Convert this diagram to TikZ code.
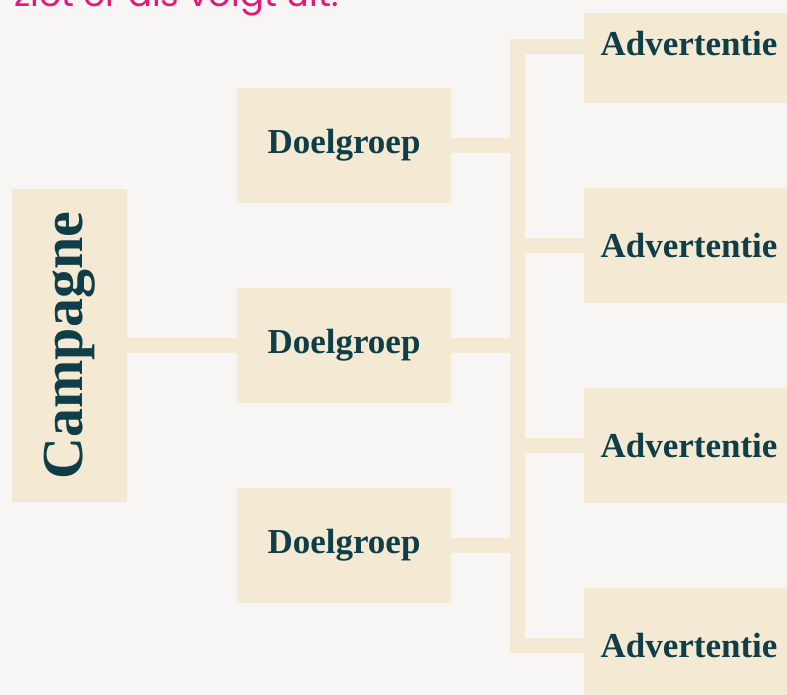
\documentclass[tikz,border=0pt]{standalone}
\usepackage{fontspec}
\setmainfont{Liberation Serif}
\newfontfamily\introfont{Poppins}

\definecolor{paper}{HTML}{F7F6F4}
\definecolor{cream}{HTML}{F4EAD4}
\definecolor{ink}{HTML}{0F3E48}
\definecolor{roze}{HTML}{E6177B}

\begin{document}
\begin{tikzpicture}[x=1pt, y=-1pt,
	vak/.style={fill=cream, text=ink, inner sep=0pt, font=\bfseries\fontsize{35}{40}\selectfont},
	doel/.style={vak, minimum width=214, minimum height=115},
	advert/.style={vak, minimum width=210, minimum height=115},
	lijn/.style={draw=cream, line width=15, line join=miter}]

	\fill[paper] (0,0) rectangle (787,695);
	\clip (0,0) rectangle (787,695);

	\node[anchor=base west, inner sep=0pt, text=roze, font=\introfont\fontsize{35.5}{40}\selectfont] (intro) at (14,7) {ziet er als volgt uit:};

	\node[vak, minimum width=115, minimum height=312, font=\bfseries\fontsize{58}{60}\selectfont] (campagne) at (69.5,345.5) {\rotatebox{90}{Campagne}};

	\node[doel] (doel1) at (344,145.5) {Doelgroep};
	\node[doel] (doel2) at (344,345.5) {Doelgroep};
	\node[doel] (doel3) at (344,545) {Doelgroep};

	\node[advert, minimum height=90, text height=24, text depth=28] (adv1) at (689,58) {Advertentie};
	\node[advert] (adv2) at (689,245.5) {Advertentie};
	\node[advert] (adv3) at (689,445.5) {Advertentie};
	\node[advert] (adv4) at (689,645.5) {Advertentie};

	\coordinate (bartop) at (517,47);
	\coordinate (barbot) at (517,645.5);

	\draw[lijn] (campagne.east) -- (doel2.west);
	\foreach \d in {doel1, doel2, doel3}
		\draw[lijn] (\d.east) -- (\d.east -| bartop);
	\draw[lijn] (adv1.west |- bartop) -- (bartop) -- (barbot) -- (adv4.west |- barbot);
	\foreach \a in {adv2, adv3}
		\draw[lijn] (\a.west) -- (\a.west -| bartop);
\end{tikzpicture}
\end{document}
